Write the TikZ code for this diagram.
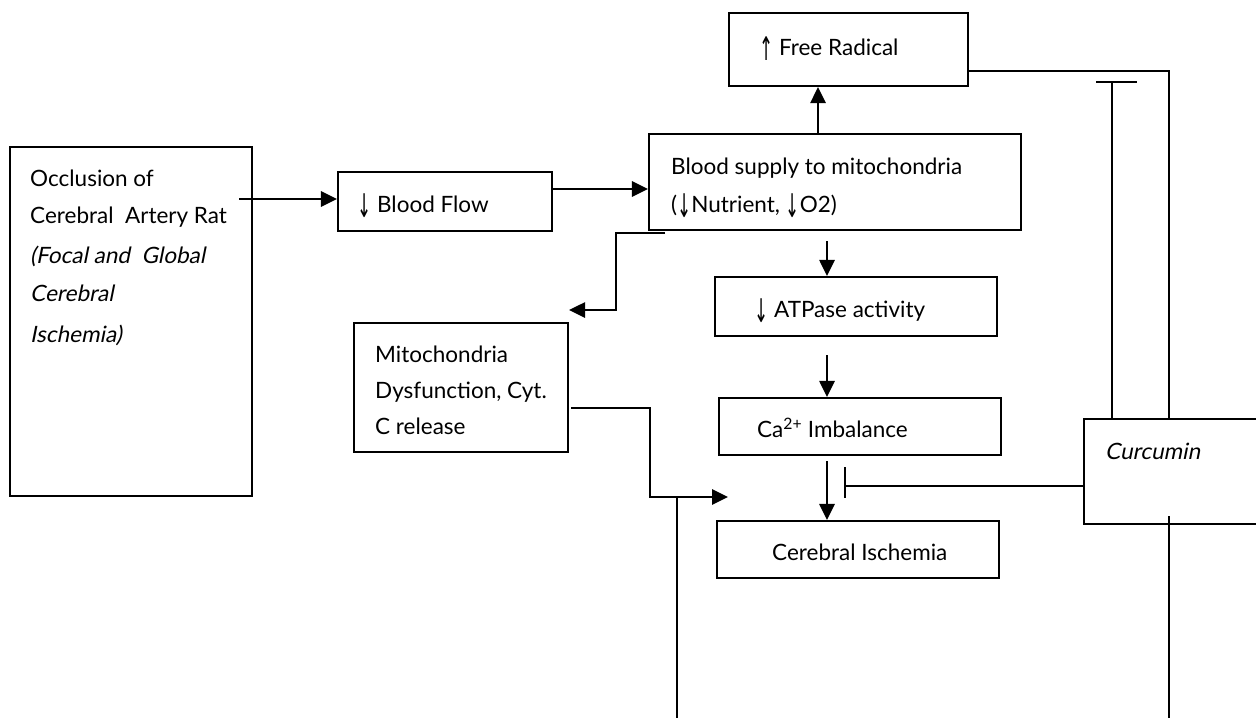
\documentclass[tikz,border=0pt]{standalone}
\usepackage{fontspec}
\usepackage{graphicx}
\setmainfont{Lato}
\newfontfamily\arrowfont{DejaVu Sans}
\newfontfamily\slfont[FakeSlant=0.2]{Lato}
\newcommand{\dnarr}{\raisebox{-5pt}{\scalebox{0.75}[1.45]{\arrowfont ↓}}}
\newcommand{\uparr}{\raisebox{-5pt}{\scalebox{0.75}[1.45]{\arrowfont ↑}}}
\usetikzlibrary{arrows.meta}
\begin{document}
\begin{tikzpicture}[x=1pt,y=-1pt,
  box/.style={draw, line width=2.1pt, inner sep=0pt},
  txt/.style={anchor=base west, inner sep=0pt, font=\fontsize{22.5}{27}\selectfont},
  flow/.style={line width=2.8pt, -{Triangle[length=16pt,width=15pt]}},
  plain/.style={line width=2pt},
]
\useasboundingbox (0,0) rectangle (1256,718);
\fill[white] (0,0) rectangle (1256,718);

% boxes
\node[box, minimum width=242pt, minimum height=349pt] (occ) at (131,321.5) {};
\node[box, minimum width=214pt, minimum height=59pt]  (bf)  at (445,201.5) {};
\node[box, minimum width=372pt, minimum height=96pt]  (bs)  at (835,182) {};
\node[box, minimum width=239pt, minimum height=73pt]  (fr)  at (848.5,49.5) {};
\node[box, minimum width=282pt, minimum height=59pt]  (atp) at (856,306.5) {};
\node[box, minimum width=282pt, minimum height=57pt]  (ca)  at (860,426.5) {};
\node[box, minimum width=282pt, minimum height=57pt]  (ci)  at (858,549.5) {};
\node[box, minimum width=214pt, minimum height=129pt] (mito) at (461,387.5) {};
\node[box, minimum width=216pt, minimum height=105pt] (cur) at (1192,471.5) {};

% texts
\node[txt] (o1) at (30,186) {Occlusion of};
\node[txt] (o2) at (30,223) {Cerebral\ \ Artery Rat};
\node[txt] (o3) at (30,263) {\slfont (Focal and\ \ Global};
\node[txt] (o4) at (30,301) {\slfont Cerebral};
\node[txt] (o5) at (30,342) {\slfont Ischemia)};
\node[txt] (bft) at (357,212) {\dnarr\ Blood Flow};
\node[txt] (bs1) at (671,174) {Blood supply to mitochondria};
\node[txt] (bs2) at (671,212) {(\dnarr Nutrient, \dnarr O2)};
\node[txt] (frt) at (759,55) {\uparr\ Free Radical};
\node[txt] (atpt) at (754,317) {\dnarr\ ATPase activity};
\node[txt] (cat) at (757,437) {Ca\textsuperscript{2+} Imbalance};
\node[txt] (cit) at (772,560) {Cerebral Ischemia};
\node[txt] (m1t) at (375,362) {Mitochondria};
\node[txt] (m2t) at (375,398) {Dysfunction, Cyt.};
\node[txt] (m3t) at (375,434) {C release};
\node[txt] (curt) at (1105,459) {\slfont Curcumin};

% helper coordinates
\coordinate (p1) at (239,199);
\coordinate (p2) at (552,189);
\coordinate (p3) at (818,0);
\coordinate (m1) at (665,233);
\coordinate (m2) at (616,310);
\coordinate (c1) at (827,241);
\coordinate (c2) at (827,355);
\coordinate (c3) at (827,461);
\coordinate (d0) at (571,408);
\coordinate (d1) at (650,497);
\coordinate (d2) at (728,497);
\coordinate (e1) at (677,497);
\coordinate (e2) at (677,718);
\coordinate (f1) at (1169,71);
\coordinate (g1) at (1112,82);
\coordinate (g2) at (1096,82);
\coordinate (g3) at (1137,82);
\coordinate (h1) at (845,486);
\coordinate (h2) at (845,467);
\coordinate (h3) at (845,498);
\coordinate (k1) at (1169,516);
\coordinate (k2) at (1169,718);

% flow arrows
\draw[flow] (p1) -- (p1 -| bf.west);
\draw[flow] (p2) -- (p2 -| bs.west);
\draw[flow] (p3 |- bs.north) -- (p3 |- fr.south);
\draw[flow] (m1) -| (m2) -- (m2 -| mito.east);
\draw[flow] (c1) -- (c1 |- atp.north);
\draw[flow] (c2) -- (c2 |- ca.north);
\draw[flow] (c3) -- (c3 |- ci.north);
\draw[flow] (d0) -| (d1) -- (d2);
\draw[plain] (e1) -- (e2);

% curcumin connectors
\draw[plain] (f1 -| fr.east) -- (f1) -- (f1 |- cur.north);
\draw[plain] (g1 |- cur.north) -- (g1);
\draw[plain] (g2) -- (g3);
\draw[plain] (h1 -| cur.west) -- (h1);
\draw[plain] (h2) -- (h3);
\draw[plain] (k1) -- (k2);
\end{tikzpicture}
\end{document}
